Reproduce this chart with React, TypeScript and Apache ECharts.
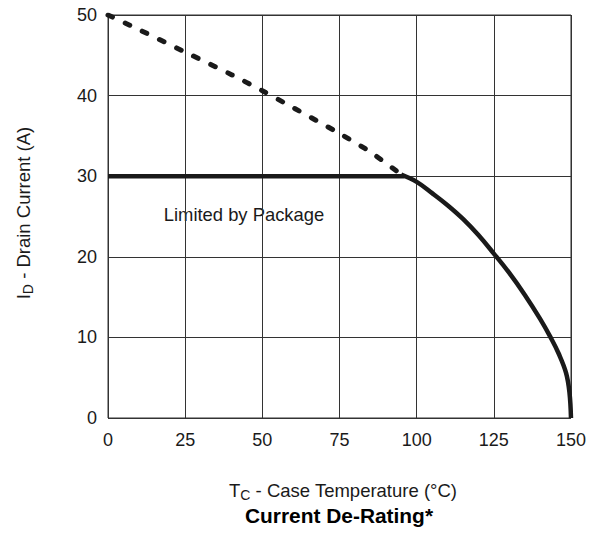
import React, { useEffect, useRef } from "react";
import * as echarts from "echarts";

// Case temperature (°C) and drain current (A) for the de-rating curves
const dashTemp = [0, 10, 25, 40, 50, 60, 75, 85, 95];
const dashCurrent = [50, 48.2, 45.4, 42.6, 40.6, 38.5, 35.3, 33.0, 30.2];
const curveTemp = [95, 100, 105, 110, 115, 120, 125, 130, 135, 140, 143.4, 146, 148.4, 149.5, 150];
const curveCurrent = [30.2, 29.3, 27.9, 26.4, 24.7, 22.7, 20.4, 18.0, 15.3, 12.3, 10.0, 8.0, 5.6, 3.2, 0];
const packageTemp = [0, 96];
const packageCurrent = [30, 30];

const xTicks = [0, 25, 50, 75, 100, 125, 150];
const yTicks = [0, 10, 20, 30, 40, 50];

const FONT = "'Liberation Sans', Arial, Helvetica, sans-serif";
const INK = "#1a1a1a";

export default function App() {
  const ref = useRef<HTMLDivElement>(null);
  useEffect(() => {
    if (!ref.current) return;
    const chart = echarts.init(ref.current, undefined, { renderer: "svg" });
    const pair = (xs: number[], ys: number[]) => xs.map((x, i) => [x, ys[i]]);
    chart.setOption({
      animation: false,
      backgroundColor: "#ffffff",
      grid: { left: 108, right: 17, top: 15, bottom: 115, show: true, borderColor: "#333", borderWidth: 1 },
      xAxis: {
        type: "value",
        min: xTicks[0],
        max: xTicks[xTicks.length - 1],
        interval: 25,
        axisLine: { show: false },
        axisTick: { show: false },
        axisLabel: { color: INK, fontFamily: FONT, fontSize: 18, margin: 13 },
        splitLine: { show: true, lineStyle: { color: "#333", width: 1 } },
      },
      yAxis: {
        type: "value",
        min: yTicks[0],
        max: yTicks[yTicks.length - 1],
        interval: 10,
        axisLine: { show: false },
        axisTick: { show: false },
        axisLabel: { color: INK, fontFamily: FONT, fontSize: 18, margin: 11 },
        splitLine: { show: true, lineStyle: { color: "#333", width: 1 } },
      },
      series: [
        {
          type: "line",
          data: pair(dashTemp, dashCurrent),
          smooth: 0.3,
          symbol: "none",
          lineStyle: { color: INK, width: 5, type: [5, 14], cap: "round" },
        },
        {
          type: "line",
          data: pair(packageTemp, packageCurrent),
          symbol: "none",
          lineStyle: { color: INK, width: 4.5 },
        },
        {
          type: "line",
          data: pair(curveTemp, curveCurrent),
          smooth: 0.4,
          symbol: "none",
          lineStyle: { color: INK, width: 4.5 },
        },
      ],
      graphic: [
        {
          type: "text",
          x: 244,
          y: 214,
          style: {
            text: "Limited by Package",
            fontFamily: FONT,
            fontSize: 18.4,
            fill: INK,
            align: "center",
            verticalAlign: "middle",
          },
        },
        {
          type: "text",
          x: 343,
          y: 490,
          style: {
            text: "{m|T}{s|C}{m| - Case Temperature (°C)}",
            align: "center",
            verticalAlign: "middle",
            rich: {
              m: { fontFamily: FONT, fontSize: 18.5, fill: INK, color: INK },
              s: { fontFamily: FONT, fontSize: 14, fill: INK, color: INK, padding: [9, 0, 0, 0] },
            },
          },
        },
        {
          type: "text",
          x: 339,
          y: 515,
          style: {
            text: "Current De-Rating*",
            fontFamily: FONT,
            fontWeight: "bold",
            fontSize: 20.9,
            fill: "#000",
            align: "center",
            verticalAlign: "middle",
          },
        },
        {
          type: "text",
          x: 23,
          y: 213,
          rotation: Math.PI / 2,
          style: {
            text: "{m|I}{s|D}{m| - Drain Current (A)}",
            align: "center",
            verticalAlign: "middle",
            rich: {
              m: { fontFamily: FONT, fontSize: 18.5, fill: INK, color: INK },
              s: { fontFamily: FONT, fontSize: 14, fill: INK, color: INK, padding: [9, 0, 0, 0] },
            },
          },
        },
      ],
    });
    return () => chart.dispose();
  }, []);
  return <div ref={ref} style={{ width: 589, height: 533, position: "absolute", left: 0, top: 0 }} />;
}
